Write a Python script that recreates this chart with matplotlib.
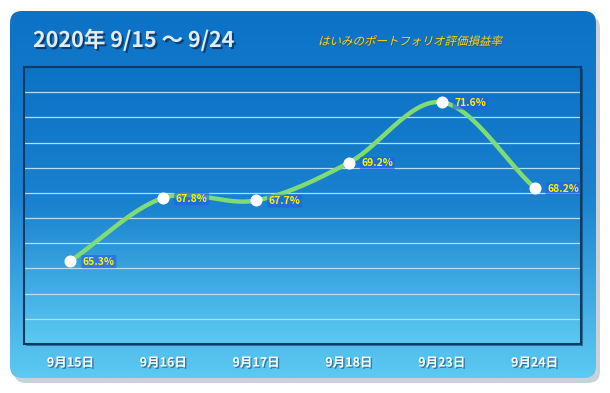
"""Portfolio valuation rate chart, 9/15 - 9/24."""

import matplotlib.pyplot as plt
import matplotlib.patheffects as pe
import numpy as np
from matplotlib.colors import LinearSegmentedColormap
from matplotlib.font_manager import FontProperties
from matplotlib.patches import FancyBboxPatch, PathPatch
from matplotlib.textpath import TextPath
from matplotlib.transforms import Affine2D, IdentityTransform

plt.rcParams["font.family"] = ["Noto Sans CJK JP", "DejaVu Sans"]

dates = ["9月15日", "9月16日", "9月17日", "9月18日", "9月23日", "9月24日"]
rates = [65.3, 67.8, 67.7, 69.2, 71.6, 68.2]
labels = ["65.3%", "67.8%", "67.7%", "69.2%", "71.6%", "68.2%"]
title = "2020年 9/15 ～ 9/24"
subtitle = "はいみのポートフォリオ評価損益率"

W, H = 610, 393
grad = LinearSegmentedColormap.from_list("g", ["#0c72c6", "#1a82cf", "#5ccaf2"])


def smooth(xs, ys, n=30):
    """Catmull-Rom curve through the points (like Excel smoothed line)."""
    p = np.column_stack([xs, ys]).astype(float)
    p = np.vstack([2 * p[0] - p[1], p, 2 * p[-1] - p[-2]])
    out = []
    for i in range(1, len(p) - 2):
        p0, p1, p2, p3 = p[i - 1], p[i], p[i + 1], p[i + 2]
        t = np.linspace(0, 1, n)[:, None]
        seg = 0.5 * ((2 * p1) + (-p0 + p2) * t + (2 * p0 - 5 * p1 + 4 * p2 - p3) * t**2
                     + (-p0 + 3 * p1 - 3 * p2 + p3) * t**3)
        out.append(seg)
    c = np.vstack(out)
    return c[:, 0], c[:, 1]


fig = plt.figure(figsize=(W / 100, H / 100), dpi=100)
fig.patch.set_facecolor("white")

# background panel
bg = fig.add_axes([0, 0, 1, 1])
bg.set_xlim(0, W)
bg.set_ylim(H, 0)
bg.axis("off")
shadow = FancyBboxPatch((14, 16), 586, 367, boxstyle="round,pad=0,rounding_size=12",
                        fc="#9aa4ae", ec="none", alpha=0.5)
bg.add_patch(shadow)
panel = FancyBboxPatch((10, 11), 586, 367, boxstyle="round,pad=0,rounding_size=12",
                       fc="none", ec="none")
bg.add_patch(panel)
img = bg.imshow(np.linspace(0, 1, 256)[:, None], cmap=grad, aspect="auto",
                extent=[10, 596, 378, 11], zorder=1)
img.set_clip_path(panel)
bg.set_xlim(0, W)
bg.set_ylim(H, 0)

bg.text(33, 40, title, fontsize=15.5, fontweight="bold", color="#e2ecf6", va="center",
        zorder=3, path_effects=[pe.SimplePatchShadow(offset=(1.5, -1.5), shadow_rgbFace="#0a2a50",
                                                     alpha=0.7), pe.Normal()])

# italic subtitle (CJK font has no italic, so skew the glyph outlines)
tp = TextPath((0, 0), subtitle, size=11.5, prop=FontProperties(family="Noto Sans CJK JP"))
skew = Affine2D().skew_deg(14, 0).translate(318, H - 45)
fig.patches.append(PathPatch(tp, transform=skew + IdentityTransform(), fc="#ffd21a",
                             ec="none", zorder=6, figure=fig,
                             path_effects=[pe.SimplePatchShadow(offset=(0.5, -1),
                                                                shadow_rgbFace="#5a4a10",
                                                                alpha=0.5), pe.Normal()]))

# plot area shadow
bg.add_patch(plt.Rectangle((26, 69), 557, 277, fc="#0a3050", ec="none", alpha=0.5, zorder=2))

ax = fig.add_axes([24 / W, 1 - 344 / H, 557 / W, 277 / H], zorder=5)
x = np.arange(len(dates))
ax.imshow(np.linspace(0, 1, 256)[:, None], cmap=grad, aspect="auto",
          extent=[-0.5, len(dates) - 0.5, 62, 73], origin="upper", zorder=0)
ax.set_xlim(-0.5, len(dates) - 0.5)
ax.set_ylim(62, 73)
for yv in range(63, 73):
    ax.axhline(yv, color="#b8dcf4", lw=0.9, zorder=1)

sx, sy = smooth(x, rates)
ax.plot(sx, sy, color="#7fdc72", lw=3.2, solid_capstyle="round", zorder=3)
ax.scatter(x, rates, s=75, color="white", zorder=4, linewidths=0)
for xi, yi, lab in zip(x, rates, labels):
    ax.annotate(lab, (xi, yi), xytext=(9, -0.5), textcoords="offset points", fontsize=7.5,
                fontweight="bold", color="#fff200", va="center", ha="left", zorder=5,
                bbox=dict(boxstyle="round,pad=0.15", fc="#2460e4", ec="none", alpha=0.6))

ax.set_xticks(x)
ax.set_xticklabels(dates)
ax.set_yticks([])
ax.tick_params(axis="x", length=0, pad=9, labelsize=9, colors="white")
for t in ax.get_xticklabels():
    t.set_fontweight("bold")
    t.set_path_effects([pe.SimplePatchShadow(offset=(1, -1), shadow_rgbFace="#1a4a70", alpha=0.6),
                        pe.Normal()])
for s in ax.spines.values():
    s.set_color("#0b3a64")
    s.set_linewidth(1.5)

fig.savefig("out.png", dpi=100)
plt.close(fig)
